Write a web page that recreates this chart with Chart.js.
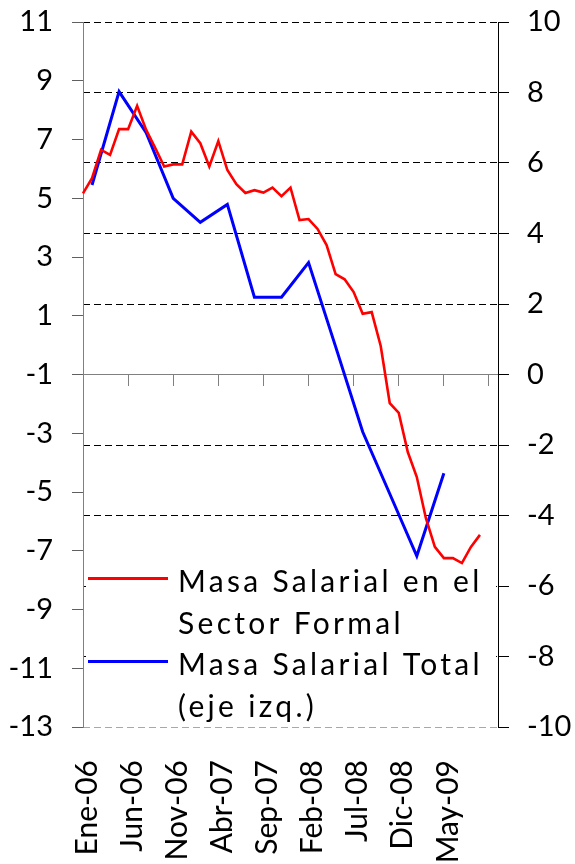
<!DOCTYPE html>
<html>
<head>
<meta charset="utf-8">
<style>
html,body{margin:0;padding:0;background:#ffffff;}
#wrap{width:575px;height:864px;position:relative;}
</style>
<script src="https://cdn.jsdelivr.net/npm/chart.js@4.4.1/dist/chart.umd.min.js"></script>
</head>
<body>
<div id="wrap"><canvas id="c" width="575" height="864"></canvas></div>
<script>
// ---- Data ----
const categories = [
  "Ene-06","Feb-06","Mar-06","Abr-06","May-06","Jun-06","Jul-06","Ago-06","Sep-06","Oct-06","Nov-06","Dic-06",
  "Ene-07","Feb-07","Mar-07","Abr-07","May-07","Jun-07","Jul-07","Ago-07","Sep-07","Oct-07","Nov-07","Dic-07",
  "Ene-08","Feb-08","Mar-08","Abr-08","May-08","Jun-08","Jul-08","Ago-08","Sep-08","Oct-08","Nov-08","Dic-08",
  "Ene-09","Feb-09","Mar-09","Abr-09","May-09","Jun-09","Jul-09","Ago-09","Sep-09","Oct-09","Nov-09"
];
// Masa Salarial en el Sector Formal (right axis)
const formalValues = [
  5.14, 5.57, 6.37, 6.23, 6.96, 6.96, 7.62, 6.94, 6.43, 5.90, 5.96, 5.96,
  6.89, 6.56, 5.90, 6.62, 5.80, 5.40, 5.15, 5.23, 5.16, 5.30, 5.06, 5.30,
  4.38, 4.41, 4.13, 3.67, 2.85, 2.70, 2.34, 1.72, 1.77, 0.81, -0.81, -1.09,
  -2.20, -2.91, -4.07, -4.89, -5.21, -5.21, -5.35, -4.89, -4.55
];
// Masa Salarial Total (left axis), quarterly
const totalValues = [
  null, 5.45, null, null, 8.63, null, null, 7.23, null, null, 5.00, null,
  null, 4.18, null, null, 4.79, null, null, 1.63, null, null, 1.63, null,
  null, 2.81, null, null, -0.05, null, null, -2.95, null, null, -5.06, null,
  null, -7.18, null, null, -4.36
];
const leftTicks = [11, 9, 7, 5, 3, 1, -1, -3, -5, -7, -9, -11, -13];
const rightTicks = [10, 8, 6, 4, 2, 0, -2, -4, -6, -8, -10];
const seriesNames = ["Masa Salarial en el Sector Formal", "Masa Salarial Total (eje izq.)"];
const legendLines = [["Masa Salarial en el", "Sector Formal"], ["Masa Salarial Total", "(eje izq.)"]];
const labelEvery = 5;
const lastLabelIndex = 40;

// ---- Styles ----
const FONT = "Lato";
const RED = "#ff0000";
const BLUE = "#0000ff";

const legendPlugin = {
  id: 'boxLegend',
  beforeDatasetsDraw(chart) {
    const ctx = chart.ctx;
    const a = chart.chartArea;
    const left = a.left + 3;
    const top = 566;
    ctx.save();
    ctx.fillStyle = '#ffffff';
    ctx.fillRect(left, top, a.right - left - 2, 156);
    const colors = [chart.data.datasets[0].borderColor, chart.data.datasets[1].borderColor];
    const pitch = 41.5;
    let base = 592;
    ctx.font = "30px " + FONT;
    ctx.fillStyle = '#000000';
    ctx.textBaseline = 'alphabetic';
    ctx.textAlign = 'left';
    try { ctx.letterSpacing = '3.3px'; } catch (e) {}
    legendLines.forEach((lines, k) => {
      ctx.save();
      ctx.strokeStyle = colors[k];
      ctx.lineWidth = 3;
      ctx.beginPath();
      ctx.moveTo(a.left + 5, base - 13.5);
      ctx.lineTo(a.left + 85, base - 13.5);
      ctx.stroke();
      ctx.restore();
      lines.forEach((t) => {
        ctx.fillText(t, a.left + 95, base);
        base += pitch;
      });
    });
    ctx.restore();
  }
};

new Chart(document.getElementById('c'), {
  type: 'line',
  data: {
    labels: categories,
    datasets: [
      {
        label: seriesNames[0],
        data: formalValues,
        borderColor: RED,
        backgroundColor: RED,
        borderWidth: 2.6,
        pointRadius: 0,
        tension: 0,
        yAxisID: 'yR',
        xAxisID: 'x'
      },
      {
        label: seriesNames[1],
        data: totalValues,
        borderColor: BLUE,
        backgroundColor: BLUE,
        borderWidth: 3,
        pointRadius: 0,
        tension: 0,
        spanGaps: true,
        yAxisID: 'yL',
        xAxisID: 'x'
      }
    ]
  },
  options: {
    responsive: false,
    animation: false,
    devicePixelRatio: 1,
    layout: { padding: { top: 22, left: 0, right: 0, bottom: 0 } },
    plugins: { legend: { display: false }, tooltip: { enabled: false } },
    scales: {
      x: {
        type: 'category',
        position: 'bottom',
        offset: false,
        grid: { display: false, drawTicks: false, drawOnChartArea: false },
        border: { display: false },
        ticks: {
          autoSkip: false,
          maxRotation: 90,
          minRotation: 90,
          padding: 33,
          labelOffset: 4,
          color: '#000',
          font: { family: FONT, size: 30 },
          callback: (v, i) => (i % labelEvery === 0 && i <= lastLabelIndex) ? categories[i] : ''
        },
        afterFit: (s) => { s.height = 137; s.paddingLeft = 0; s.paddingRight = 0; }
      },
      x2: {
        type: 'category',
        axis: 'x',
        position: { yR: 0 },
        offset: false,
        grid: {
          drawOnChartArea: false,
          drawTicks: true,
          tickLength: 11,
          color: (c) => (c.index % labelEvery === 0) ? '#808080' : 'rgba(0,0,0,0)',
          lineWidth: 1
        },
        border: { display: true, color: '#808080', width: 1 },
        ticks: { display: false, autoSkip: false }
      },
      yL: {
        type: 'linear',
        position: 'left',
        min: -13,
        max: 11,
        afterBuildTicks: (s) => { s.ticks = leftTicks.map(v => ({ value: v })); },
        grid: { drawOnChartArea: false, drawTicks: true, tickLength: 11, color: '#606060' },
        border: { display: true, color: '#808080', width: 1 },
        ticks: { padding: 19, color: '#000', font: { family: FONT, size: 29 } },
        afterFit: (s) => { s.width = 83; s.paddingTop = 0; s.paddingBottom = 0; }
      },
      yR: {
        type: 'linear',
        position: 'right',
        min: -10,
        max: 10,
        afterBuildTicks: (s) => { s.ticks = rightTicks.map(v => ({ value: v })); },
        grid: {
          drawOnChartArea: true,
          drawTicks: true,
          tickLength: 11,
          color: (c) => {
            if (!c.tick) return '#000000';
            if (c.tick.value === 0) return 'rgba(0,0,0,0)';
            if (c.tick.value === -10) return '#a8a8a8';
            return '#000000';
          },
          tickColor: '#000000',
          lineWidth: 1
        },
        border: { display: true, color: '#000000', width: 1, dash: [7, 4] },
        ticks: { padding: 18, color: '#000', font: { family: FONT, size: 29 } },
        afterFit: (s) => { s.width = 77; s.paddingTop = 0; s.paddingBottom = 0; }
      }
    }
  },
  plugins: [legendPlugin]
});
</script>
</body>
</html>
